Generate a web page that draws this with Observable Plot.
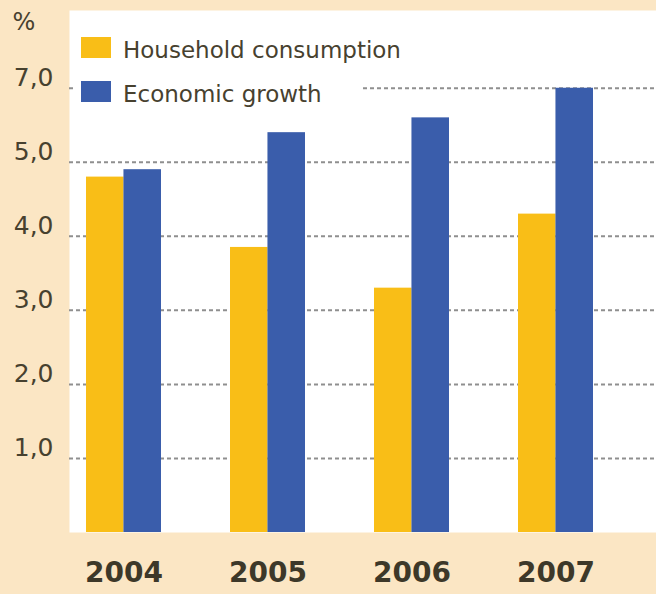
<!DOCTYPE html>
<html>
<head>
<meta charset="utf-8">
<script src="https://cdn.jsdelivr.net/npm/d3@7"></script>
<script src="https://cdn.jsdelivr.net/npm/@observablehq/plot@0.6"></script>
<style>
  html, body { margin: 0; padding: 0; }
  #wrap { position: relative; width: 656px; height: 594px; background: #fbe6c4; overflow: hidden; font-family: "DejaVu Sans", sans-serif; }
  #chart svg { display: block; }
  #legend { position: absolute; left: 74px; top: 30px; width: 288px; height: 76px; background: #fff; }
  .row { position: absolute; left: 7px; height: 21px; display: flex; align-items: flex-end; }
  .sw { width: 30px; height: 21px; margin-right: 12px; flex: none; }
  .lbl { font-size: 23px; line-height: 23px; color: #47412f; white-space: nowrap; position: relative; top: 4px; }
</style>
</head>
<body>
<div id="wrap">
  <div id="chart"></div>
  <div id="legend"></div>
</div>
<script>
const years = ["2004", "2005", "2006", "2007"];
const household = [4.8, 3.85, 3.3, 4.3];
const growth = [4.9, 5.4, 5.6, 6.0];
const yTicks = [1, 2, 3, 4, 5, 6];
const yTickLabels = ["1,0", "2,0", "3,0", "4,0", "5,0", "7,0"];
const seriesNames = ["Household consumption", "Economic growth"];
const seriesColors = ["#f9be17", "#3a5dab"];

const rows = years.map((y, i) => ({year: y, household: household[i], growth: growth[i]}));

const xRange = [85.5, 592.5];
const padInner = 0.48;
const step = (xRange[1] - xRange[0]) / (years.length - padInner);
const half = step * (1 - padInner) / 2;
const textColor = "#47412f";

const chart = Plot.plot({
  width: 656,
  height: 594,
  marginLeft: 69,
  marginRight: 0,
  marginTop: 10,
  marginBottom: 62,
  style: {background: "transparent", fontFamily: "DejaVu Sans, sans-serif", color: textColor},
  x: {domain: years, range: xRange, paddingInner: padInner, paddingOuter: 0},
  y: {domain: [0, 7.05]},
  marks: [
    Plot.frame({fill: "white", stroke: "none"}),
    Plot.ruleY(yTicks, {stroke: "#8f8f8f", strokeWidth: 2, strokeDasharray: "4,3"}),
    Plot.barY(rows, {x: "year", y: "household", fill: seriesColors[0], insetLeft: 0, insetRight: half}),
    Plot.barY(rows, {x: "year", y: "growth", fill: seriesColors[1], insetLeft: half, insetRight: 0}),
    Plot.axisY(yTicks, {tickSize: 0, tickPadding: 16, fontSize: 25, dy: -10, fill: textColor,
      tickFormat: d => yTickLabels[yTicks.indexOf(d)], label: null}),
    Plot.axisX({tickSize: 0, tickPadding: 30, fontSize: 28, fontWeight: "bold", fill: "#3d3829", label: null}),
    Plot.text(["%"], {frameAnchor: "top-left", dx: -57, dy: 2, fontSize: 24, fill: textColor, textAnchor: "start", lineAnchor: "top"})
  ]
});
document.getElementById("chart").appendChild(chart);

const legend = document.getElementById("legend");
seriesNames.forEach((name, i) => {
  const row = document.createElement("div");
  row.className = "row";
  row.style.top = (7 + i * 44) + "px";
  row.innerHTML = `<div class="sw" style="background:${seriesColors[i]}"></div><div class="lbl">${name}</div>`;
  legend.appendChild(row);
});
</script>
</body>
</html>
